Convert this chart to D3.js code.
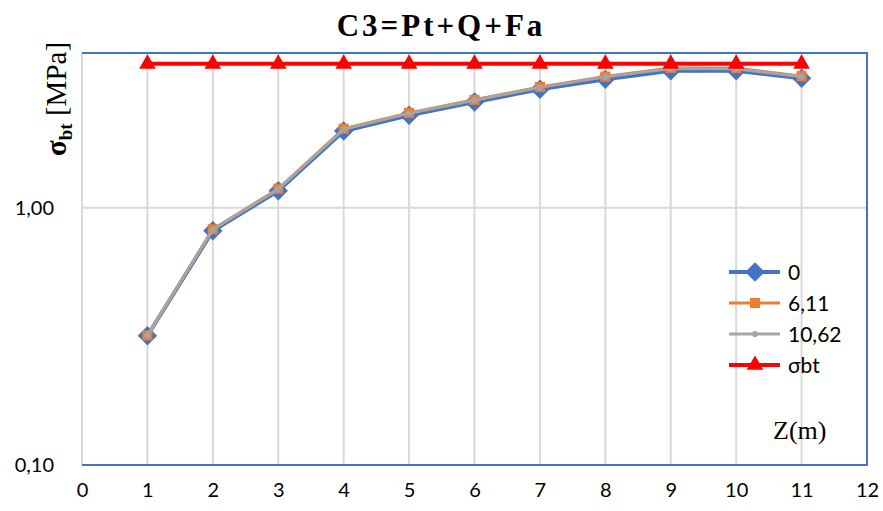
<!DOCTYPE html>
<html>
<head>
<meta charset="utf-8">
<script src="https://cdn.jsdelivr.net/npm/d3@7"></script>
<style>
  body { margin: 0; background: #fff; }
  svg { display: block; }
</style>
</head>
<body>
<div id="container"></div>
<script>
/* CONSTANTS AND GLOBALS */
const width = 883,
  height = 511,
  margin = { top: 53, right: 16, bottom: 46, left: 82 };

/* DATA */
const depths = [1, 2, 3, 4, 5, 6, 7, 8, 9, 10, 11];
const series0 = [0.318, 0.814, 1.165, 1.99, 2.29, 2.58, 2.89, 3.16, 3.41, 3.41, 3.19];
const series611 = [0.319, 0.825, 1.186, 2.03, 2.34, 2.63, 2.95, 3.24, 3.50, 3.49, 3.25];
const series1062 = [0.319, 0.823, 1.182, 2.02, 2.33, 2.62, 2.94, 3.23, 3.48, 3.47, 3.24];
const sigmaBt = [3.63, 3.63, 3.63, 3.63, 3.63, 3.63, 3.63, 3.63, 3.63, 3.63, 3.63];
const seriesNames = ["0", "6,11", "10,62", "σbt"];
const xTicks = [0, 1, 2, 3, 4, 5, 6, 7, 8, 9, 10, 11, 12];
const yTicks = [0.1, 1];

const tickFont = "Lato, 'Open Sans', sans-serif";
const serifFont = "'Liberation Serif', 'DejaVu Serif', serif";

const series = [
  { name: seriesNames[0], values: series0, color: "#4472C4", width: 4, marker: "diamond" },
  { name: seriesNames[1], values: series611, color: "#ED7D31", width: 3, marker: "square" },
  { name: seriesNames[2], values: series1062, color: "#A5A5A5", width: 3, marker: "circle" },
  { name: seriesNames[3], values: sigmaBt, color: "#FF0000", width: 4, marker: "triangle" }
];

// + SCALES
const xScale = d3.scaleLinear()
  .domain([0, 12])
  .range([margin.left, width - margin.right]);

const yScale = d3.scaleLog()
  .domain([0.1, 4])
  .range([height - margin.bottom, margin.top]);

// + CREATE SVG ELEMENT
const svg = d3.select("#container")
  .append("svg")
  .attr("width", width)
  .attr("height", height);

// gridlines
svg.append("g")
  .selectAll("line")
  .data(xTicks.slice(0, -1))
  .join("line")
  .attr("x1", d => xScale(d)).attr("x2", d => xScale(d))
  .attr("y1", margin.top).attr("y2", height - margin.bottom)
  .attr("stroke", "#d9d9d9")
  .attr("stroke-width", 2);

svg.append("line")
  .attr("x1", margin.left).attr("x2", width - margin.right)
  .attr("y1", yScale(1)).attr("y2", yScale(1))
  .attr("stroke", "#d9d9d9")
  .attr("stroke-width", 2);

// blue border on top, right, bottom
svg.append("path")
  .attr("d", `M${margin.left},${margin.top}H${width - margin.right}V${height - margin.bottom}H${margin.left}`)
  .attr("fill", "none")
  .attr("stroke", "#4472C4")
  .attr("stroke-width", 2);

// + AXES (labels only)
const xAxis = d3.axisBottom(xScale)
  .tickValues(xTicks)
  .tickSize(0)
  .tickPadding(18);

const xAxisGroup = svg.append("g")
  .attr("transform", `translate(0, ${height - margin.bottom})`)
  .call(xAxis);
xAxisGroup.select(".domain").remove();
xAxisGroup.selectAll("text")
  .attr("font-family", tickFont)
  .attr("font-size", 20)
  .attr("fill", "#000");

const yAxis = d3.axisLeft(yScale)
  .tickValues(yTicks)
  .tickSize(0)
  .tickPadding(28)
  .tickFormat(d => d3.format(".2f")(d).replace(".", ","));

const yAxisGroup = svg.append("g")
  .attr("transform", `translate(${margin.left}, 0)`)
  .call(yAxis);
yAxisGroup.select(".domain").remove();
yAxisGroup.selectAll("text")
  .attr("font-family", tickFont)
  .attr("font-size", 20)
  .attr("fill", "#000");

// + MARKERS
const symbolFor = {
  diamond: d3.symbol().type(d3.symbolDiamond2).size(240),
  square: d3.symbol().type(d3.symbolSquare2).size(130),
  circle: d3.symbol().type(d3.symbolCircle).size(30),
  triangle: d3.symbol().type(d3.symbolTriangle).size(120)
};

const lineGen = d3.line()
  .x(d => xScale(d[0]))
  .y(d => yScale(d[1]));

series.forEach(s => {
  const pts = depths.map((z, i) => [z, s.values[i]]);
  const g = svg.append("g");
  g.append("path")
    .datum(pts)
    .attr("d", lineGen)
    .attr("fill", "none")
    .attr("stroke", s.color)
    .attr("stroke-width", s.width)
    .attr("stroke-linejoin", "round");
  g.selectAll("path.mark")
    .data(pts)
    .join("path")
    .attr("class", "mark")
    .attr("transform", d => `translate(${xScale(d[0])}, ${yScale(d[1])})`)
    .attr("d", symbolFor[s.marker])
    .attr("fill", s.color);
});

// + LEGEND
const legend = svg.append("g")
  .attr("transform", "translate(727, 272)");

series.forEach((s, i) => {
  const row = legend.append("g")
    .attr("transform", `translate(0, ${i * 31})`);
  row.append("line")
    .attr("x1", 2).attr("x2", 53)
    .attr("stroke", s.color)
    .attr("stroke-width", s.width);
  row.append("path")
    .attr("transform", "translate(28, 0)")
    .attr("d", symbolFor[s.marker])
    .attr("fill", s.color);
  row.append("text")
    .attr("x", 61)
    .attr("y", 7.5)
    .attr("font-family", tickFont)
    .attr("font-size", 21)
    .text(s.name);
});

// + TITLE
svg.append("text")
  .attr("x", 441)
  .attr("y", 36)
  .attr("text-anchor", "middle")
  .attr("font-family", serifFont)
  .attr("font-weight", "bold")
  .attr("font-size", 31)
  .attr("letter-spacing", 3)
  .text("C3=Pt+Q+Fa");

// + Y LABEL
const yLabel = svg.append("text")
  .attr("transform", "translate(66, 156) rotate(-90)")
  .attr("font-family", serifFont)
  .attr("font-size", 29);
yLabel.append("tspan").attr("font-weight", "bold").text("σ");
yLabel.append("tspan").attr("font-weight", "bold").attr("font-size", 19).attr("dy", 6).text("bt");
yLabel.append("tspan").attr("dy", -6).text(" [MPa]");

// + X LABEL
svg.append("text")
  .attr("x", 773)
  .attr("y", 439)
  .attr("font-family", serifFont)
  .attr("font-size", 26)
  .text("Z(m)");
</script>
</body>
</html>
